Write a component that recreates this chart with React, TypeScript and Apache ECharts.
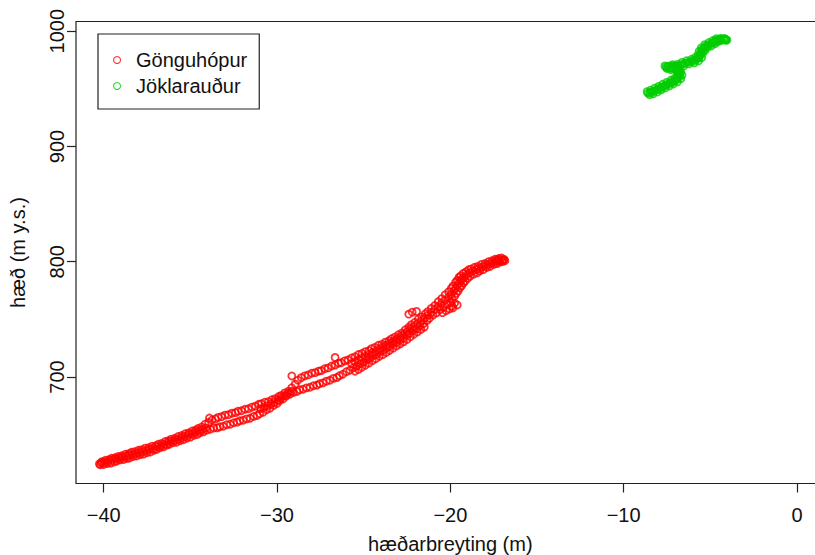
import React, { useEffect, useRef } from "react";
import * as echarts from "echarts";

// ---- Data ----
const seriesNames = ["Gönguhópur", "Jöklarauður"];
const xTicks = [-40, -30, -20, -10, 0];
const yTicks = [700, 800, 900, 1000];
const xRange = [-41.6, 1.6];
const yRange = [607.6, 1008.4];

// Gönguhópur: lower (ascending) track
const gonguTrackA: number[][] = [
  [-40.2, 623.9], [-40.0, 624.1], [-39.8, 624.9], [-39.6, 625.3], [-39.4, 626.3], [-39.25, 627.0],
  [-39.05, 628.1], [-38.85, 628.4], [-38.65, 629.4], [-38.5, 629.7], [-38.3, 631.0], [-38.1, 631.5],
  [-37.9, 632.6], [-37.7, 633.1], [-37.5, 634.3], [-37.3, 634.9], [-37.1, 636.4], [-36.95, 637.1],
  [-36.75, 638.6], [-36.55, 639.4], [-36.35, 640.9], [-36.2, 641.7], [-36.0, 642.9], [-35.8, 643.4],
  [-35.6, 644.7], [-35.4, 645.5], [-35.2, 647.0], [-35.0, 647.8], [-34.8, 649.4], [-34.6, 650.1],
  [-34.45, 651.6], [-34.25, 652.4], [-34.05, 653.9], [-33.85, 654.7], [-33.65, 655.7], [-33.45, 655.9],
  [-33.3, 656.8], [-33.1, 657.3], [-32.9, 658.6], [-32.7, 659.0], [-32.5, 660.3], [-32.3, 660.8],
  [-32.15, 662.0], [-31.95, 662.5], [-31.75, 663.7], [-31.55, 664.2], [-31.35, 665.8], [-31.15, 666.6],
  [-31.0, 668.1], [-30.8, 669.4], [-30.6, 671.6], [-30.4, 672.9], [-30.2, 675.3], [-30.0, 677.0],
  [-29.85, 679.4], [-29.65, 681.0], [-29.45, 683.5], [-29.25, 685.1], [-29.05, 686.6], [-28.85, 687.4],
  [-28.7, 688.9], [-28.5, 689.4], [-28.3, 690.6], [-28.1, 691.1], [-27.9, 692.4], [-27.7, 692.8],
  [-27.55, 694.1], [-27.35, 694.9], [-27.15, 696.4], [-26.95, 697.2], [-26.75, 698.8], [-26.55, 699.5],
  [-26.4, 701.1], [-26.2, 702.4], [-26.0, 704.6], [-25.8, 705.9], [-25.6, 708.0], [-25.4, 709.4],
  [-25.2, 711.5], [-25.0, 712.8], [-24.8, 715.0], [-24.65, 716.3], [-24.45, 718.4], [-24.25, 719.8],
  [-24.05, 721.9], [-23.85, 723.2], [-23.65, 725.4], [-23.5, 726.7], [-23.3, 728.8], [-23.1, 730.2],
  [-22.9, 732.3], [-22.7, 733.9], [-22.5, 736.4], [-22.35, 738.0], [-22.15, 740.4], [-21.95, 742.0],
  [-21.75, 744.4], [-21.55, 746.3], [-21.35, 749.1], [-21.2, 751.0], [-21.0, 753.7], [-20.8, 755.6],
  [-20.6, 758.3], [-20.4, 760.2], [-20.2, 762.9], [-20.0, 764.8], [-19.9, 767.8], [-19.75, 770.0],
  [-19.65, 772.7], [-19.55, 774.7], [-19.45, 777.4], [-19.35, 779.0], [-19.25, 781.4], [-19.15, 783.0],
  [-19.0, 785.6], [-18.85, 787.4], [-18.65, 789.2], [-18.45, 790.3], [-18.3, 792.1], [-18.1, 793.1],
  [-17.9, 795.0], [-17.7, 796.0], [-17.5, 797.6], [-17.3, 798.4], [-17.15, 799.9], [-17.0, 800.0],
  [-16.85, 800.8],
];

// Gönguhópur: upper (descending) track
const gonguTrackB: number[][] = [
  [-40.1, 626.6], [-39.9, 627.8], [-39.7, 628.2], [-39.55, 629.5], [-39.35, 629.9], [-39.15, 631.1],
  [-38.95, 631.7], [-38.75, 633.0], [-38.55, 633.5], [-38.4, 634.7], [-38.2, 635.2], [-38.0, 636.4],
  [-37.8, 637.0], [-37.6, 638.3], [-37.4, 638.7], [-37.2, 640.0], [-37.0, 640.4], [-36.85, 641.6],
  [-36.65, 642.4], [-36.45, 644.0], [-36.25, 644.8], [-36.1, 646.1], [-35.9, 646.8], [-35.7, 648.4],
  [-35.5, 649.2], [-35.3, 650.8], [-35.1, 651.5], [-34.9, 653.1], [-34.7, 653.9], [-34.55, 655.4],
  [-34.35, 656.6], [-34.15, 659.0], [-33.95, 660.6], [-33.75, 662.7], [-33.55, 663.6], [-33.4, 665.0],
  [-33.2, 665.6], [-33.0, 666.9], [-32.8, 667.3], [-32.6, 668.6], [-32.4, 669.1], [-32.25, 670.3],
  [-32.05, 670.7], [-31.85, 672.0], [-31.65, 672.5], [-31.45, 673.9], [-31.25, 674.7], [-31.05, 676.3],
  [-30.9, 676.8], [-30.7, 678.1], [-30.5, 678.6], [-30.3, 680.2], [-30.1, 681.2], [-29.9, 683.1],
  [-29.75, 684.0], [-29.55, 686.2], [-29.35, 687.6], [-29.15, 690.7], [-28.95, 693.8], [-28.8, 697.2],
  [-28.6, 699.4], [-28.4, 701.0], [-28.2, 701.8], [-28.0, 703.3], [-27.8, 703.8], [-27.6, 705.1],
  [-27.45, 705.5], [-27.25, 707.1], [-27.05, 707.9], [-26.85, 709.5], [-26.65, 710.3], [-26.45, 711.9],
  [-26.3, 712.4], [-26.1, 714.0], [-25.9, 714.8], [-25.7, 716.5], [-25.5, 717.6], [-25.3, 719.5],
  [-25.1, 720.4], [-24.9, 722.0], [-24.7, 722.8], [-24.55, 724.6], [-24.35, 725.7], [-24.15, 727.5],
  [-23.95, 728.3], [-23.75, 730.2], [-23.55, 731.4], [-23.4, 733.2], [-23.2, 734.6], [-23.0, 736.7],
  [-22.8, 738.2], [-22.6, 741.0], [-22.4, 743.0], [-22.25, 745.4], [-22.05, 747.4], [-21.85, 750.2],
  [-21.65, 752.1], [-21.45, 754.8], [-21.3, 756.7], [-21.1, 759.5], [-20.9, 762.0], [-20.7, 765.3],
  [-20.5, 768.0], [-20.3, 771.3], [-20.1, 773.8], [-19.95, 776.8], [-19.85, 778.8], [-19.7, 782.2],
  [-19.6, 783.9], [-19.5, 786.4], [-19.4, 787.8], [-19.25, 789.9], [-19.1, 791.2], [-18.95, 793.0],
  [-18.8, 793.7], [-18.6, 795.2], [-18.4, 796.0], [-18.2, 797.7], [-18.0, 798.4], [-17.8, 800.0],
  [-17.6, 800.8], [-17.4, 802.2], [-17.2, 802.8], [-17.05, 803.2], [-16.9, 802.0],
];

// Gönguhópur: middle track where the two tracks overlap
const gonguTrackC: number[][] = [
  [-40.15, 625.6], [-39.95, 626.1], [-39.75, 626.8], [-39.5, 627.9], [-39.3, 628.7], [-39.1, 629.8],
  [-38.9, 630.5], [-38.7, 631.2], [-38.55, 631.9], [-38.35, 632.6], [-38.15, 633.5], [-37.95, 634.5],
  [-37.75, 635.2], [-37.55, 636.2], [-37.35, 637.1], [-37.15, 638.0], [-36.9, 639.4], [-36.7, 640.5],
  [-36.5, 641.7], [-36.3, 642.9], [-36.1, 644.1], [-35.9, 645.0], [-35.7, 646.2], [-35.5, 647.3],
  [-35.3, 648.6], [-35.1, 649.8], [-34.9, 651.0], [-34.7, 652.1], [-34.5, 653.4], [-34.3, 654.6],
  [-34.1, 655.9],
  [-30.95, 672.6], [-30.75, 673.8], [-30.55, 675.2], [-30.35, 676.7], [-30.15, 678.2], [-29.95, 680.0],
  [-29.75, 681.9], [-29.55, 683.8], [-29.35, 685.9], [-29.15, 687.6],
  [-25.7, 711.6], [-25.5, 713.3], [-25.3, 714.9], [-25.1, 716.6], [-24.9, 718.0], [-24.7, 719.6],
  [-24.5, 721.1], [-24.3, 722.6], [-24.1, 724.4], [-23.9, 726.0], [-23.7, 727.6], [-23.5, 729.3],
  [-23.3, 731.0], [-23.1, 732.7], [-22.9, 734.8], [-22.7, 737.0], [-22.5, 739.3], [-22.3, 741.6],
  [-22.1, 743.9], [-21.9, 746.1], [-21.7, 748.4], [-21.5, 750.8], [-21.3, 753.3], [-21.1, 755.7],
  [-20.9, 758.5], [-20.7, 761.2], [-20.5, 764.1], [-20.3, 766.7], [-20.1, 769.3], [-19.95, 771.5],
  [-19.8, 774.6], [-19.7, 777.0], [-19.6, 779.3], [-19.5, 781.5], [-19.4, 783.7], [-19.3, 785.3],
  [-19.2, 786.6], [-19.05, 788.5], [-18.9, 790.3], [-18.7, 791.8], [-18.5, 793.2], [-18.35, 794.1],
  [-18.15, 795.4], [-17.95, 796.8], [-17.75, 798.1], [-17.55, 799.3], [-17.35, 800.4], [-17.2, 801.2],
  [-17.0, 801.6],
];

// Gönguhópur: lower edge of the wide stretch
const gonguTrackD: number[][] = [
  [-25.5, 705.0], [-25.3, 706.6], [-25.1, 708.5], [-24.9, 710.2], [-24.7, 712.0], [-24.5, 714.1],
  [-24.3, 715.8], [-24.1, 717.9], [-23.9, 719.3], [-23.7, 721.2], [-23.5, 723.1], [-23.3, 725.0],
  [-23.1, 726.9], [-22.9, 728.6], [-22.7, 730.5], [-22.5, 732.6], [-22.3, 734.9], [-22.1, 737.1],
  [-21.9, 739.0], [-21.7, 741.2], [-21.5, 743.3],
];

// Gönguhópur: stray points and the bulge near −20
const gonguExtra: number[][] = [
  [-33.9, 664.4], [-29.15, 700.9], [-26.65, 717.0], [-22.4, 754.5], [-22.2, 756.2], [-21.95, 756.9],
  [-19.85, 759.8], [-19.6, 762.5], [-17.3, 801.6], [-16.95, 801.4], [-40.25, 624.6],
  [-20.45, 755.8], [-20.25, 757.5], [-20.05, 759.0], [-19.9, 761.5], [-19.75, 764.0],
];

// Jöklarauður: close tracks
const joklaTrackC: number[][] = [
  [-8.6, 946.2], [-8.37, 947.1], [-8.14, 948.8], [-7.91, 950.6], [-7.67, 952.3], [-7.44, 954.1],
  [-7.21, 955.8], [-6.98, 957.5], [-6.81, 960.1], [-6.75, 962.7], [-6.81, 965.3], [-6.98, 967.1],
  [-7.33, 967.9], [-7.56, 968.8], [-7.44, 969.7], [-7.16, 969.7], [-6.87, 969.7], [-6.58, 971.4],
  [-6.29, 973.1], [-6.0, 974.0], [-5.77, 975.7], [-5.6, 978.3], [-5.54, 981.8], [-5.42, 984.4],
  [-5.25, 987.0], [-5.02, 988.7], [-4.79, 990.5], [-4.62, 992.2], [-4.39, 993.1], [-4.15, 993.1],
  [-4.04, 992.2],
];
const joklaTrackD: number[][] = [
  [-8.48, 946.9], [-8.25, 948.0], [-8.02, 949.6], [-7.79, 951.5], [-7.56, 953.2], [-7.33, 955.0],
  [-7.1, 956.6], [-6.9, 958.8], [-6.78, 961.4], [-6.78, 964.0], [-6.9, 966.3], [-7.15, 967.6],
  [-7.45, 968.4], [-7.3, 969.6], [-7.0, 969.8], [-6.72, 970.6], [-6.43, 972.3], [-6.15, 973.6],
  [-5.88, 974.9], [-5.68, 977.0], [-5.57, 980.0], [-5.48, 983.1], [-5.33, 985.7], [-5.13, 987.9],
  [-4.9, 989.6], [-4.7, 991.4], [-4.5, 992.7], [-4.27, 993.2], [-4.1, 992.6],
];
const joklaTrackA: number[][] = [
  [-8.65, 947.6], [-8.45, 948.9], [-8.22, 950.5], [-7.98, 952.1], [-7.75, 954.0], [-7.52, 955.6],
  [-7.28, 957.4], [-7.06, 959.1], [-6.92, 961.4], [-6.86, 963.6], [-6.9, 966.0], [-7.02, 968.3],
  [-7.35, 969.2], [-7.62, 969.9], [-7.18, 971.0], [-6.9, 971.2], [-6.64, 972.9], [-6.36, 974.5],
  [-6.08, 975.6], [-5.86, 977.3], [-5.7, 979.4], [-5.65, 982.6], [-5.52, 985.5], [-5.32, 988.3],
  [-5.08, 990.2], [-4.85, 991.9], [-4.66, 993.4], [-4.42, 993.8], [-4.18, 993.6],
];
const joklaTrackB: number[][] = [
  [-8.5, 944.8], [-8.3, 945.6], [-8.05, 947.2], [-7.83, 949.1], [-7.6, 950.8], [-7.36, 952.5],
  [-7.13, 954.2], [-6.9, 956.0], [-6.7, 958.8], [-6.63, 961.8], [-6.7, 964.6], [-6.92, 966.0],
  [-7.28, 966.6], [-7.5, 967.6], [-7.12, 968.5], [-6.82, 968.4], [-6.52, 969.9], [-6.22, 971.6],
  [-5.92, 972.5], [-5.68, 974.2], [-5.5, 977.0], [-5.43, 980.9], [-5.31, 983.3], [-5.16, 985.8],
  [-4.94, 987.3], [-4.72, 989.1], [-4.56, 990.9], [-4.36, 991.9], [-4.12, 992.2],
];

const colors = ["#ff0000", "#00cd00"];
const FONT = "'Liberation Sans', Arial, sans-serif";
const TEXT = "#111111";
const LINE = "#222222";

const fmtX = (v: number) => (v < 0 ? "\u2212" + Math.abs(v) : String(v));
const fmtY = (v: number) => String(v);

export default function App() {
  const ref = useRef<HTMLDivElement>(null);

  useEffect(() => {
    if (!ref.current) return;
    const chart = echarts.init(ref.current, undefined, { renderer: "svg" });

    const pointStyle = (c: string, w: number) => ({
      color: "rgba(0,0,0,0)",
      borderColor: c,
      borderWidth: w,
    });

    chart.setOption({
      animation: false,
      backgroundColor: "#ffffff",
      grid: {
        left: 76,
        top: 21.5,
        width: 748.7,
        height: 462,
        outerBoundsMode: "none",
        containLabel: false,
        show: true,
        borderColor: LINE,
        borderWidth: 1.2,
        backgroundColor: "transparent",
      },
      legend: {
        show: true,
        orient: "vertical",
        left: 98,
        top: 34,
        padding: [16, 12, 13, 15],
        itemGap: 6,
        itemWidth: 28,
        itemHeight: 7,
        borderColor: LINE,
        borderWidth: 1.2,
        selectedMode: false,
        textStyle: { fontSize: 20, fontFamily: FONT, color: TEXT, lineHeight: 20 },
        data: seriesNames.map((n, i) => ({
          name: n,
          icon: "circle",
          itemStyle: pointStyle(colors[i], 1.1),
        })),
      },
      xAxis: {
        type: "value",
        min: xRange[0],
        max: xRange[1],
        axisLine: { show: false, onZero: false },
        splitLine: { show: false },
        axisTick: {
          show: true,
          inside: false,
          length: 9,
          customValues: xTicks,
          lineStyle: { color: LINE, width: 1.2 },
        },
        axisLabel: {
          customValues: xTicks,
          formatter: fmtX,
          fontSize: 20,
          fontFamily: FONT,
          color: TEXT,
          margin: 21,
        },
        name: "hæðarbreyting (m)",
        nameLocation: "middle",
        nameGap: 50,
        nameTextStyle: { fontSize: 20, fontFamily: FONT, color: TEXT },
      },
      yAxis: {
        type: "value",
        min: yRange[0],
        max: yRange[1],
        axisLine: { show: false, onZero: false },
        splitLine: { show: false },
        axisTick: {
          show: true,
          inside: false,
          length: 9,
          customValues: yTicks,
          lineStyle: { color: LINE, width: 1.2 },
        },
        axisLabel: {
          customValues: yTicks,
          formatter: fmtY,
          rotate: 90,
          fontSize: 20,
          fontFamily: FONT,
          color: TEXT,
          margin: 9,
        },
        name: "hæð (m y.s.)",
        nameLocation: "middle",
        nameGap: 48,
        nameRotate: 90,
        nameTextStyle: { fontSize: 20, fontFamily: FONT, color: TEXT },
      },
      series: [
        {
          name: seriesNames[0],
          type: "scatter",
          symbol: "circle",
          symbolSize: 7,
          silent: true,
          itemStyle: pointStyle(colors[0], 1.8),
          data: [...gonguTrackA, ...gonguTrackB, ...gonguTrackC, ...gonguTrackD, ...gonguExtra],
        },
        {
          name: seriesNames[1],
          type: "scatter",
          symbol: "circle",
          symbolSize: 7,
          silent: true,
          itemStyle: pointStyle(colors[1], 1.8),
          data: [...joklaTrackC, ...joklaTrackD, ...joklaTrackA, ...joklaTrackB],
        },
      ],
    });

    return () => chart.dispose();
  }, []);

  return (
    <div
      ref={ref}
      style={{ position: "fixed", left: 0, top: 0, width: 815, height: 555, background: "#fff" }}
    />
  );
}
